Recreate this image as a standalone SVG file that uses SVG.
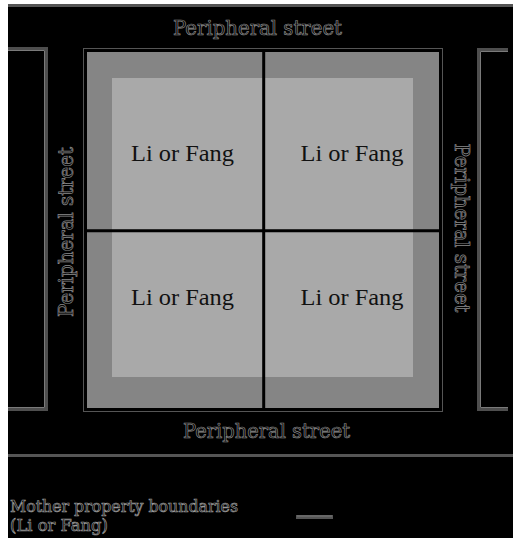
<svg xmlns="http://www.w3.org/2000/svg" width="513" height="538" viewBox="0 0 513 538">
<style>
.street{font-family:"DejaVu Serif","Liberation Serif",serif;font-size:20px;fill:#000;stroke:#8a8a8a;stroke-width:0.7px;text-anchor:middle}
.legend{font-family:"DejaVu Serif","Liberation Serif",serif;font-size:17px;fill:#000;stroke:#9a9a9a;stroke-width:0.7px}
.lf{font-family:"Liberation Serif","Times New Roman",serif;font-size:24px;fill:#111;text-anchor:middle}
.brk{fill:none;stroke:#4e4e4e;stroke-width:3}
.brk2{fill:none;stroke:#7a7a7a;stroke-width:1}
</style>
<rect x="0" y="0" width="513" height="538" fill="#fff"/>
<rect x="8" y="4" width="505" height="534" fill="#000"/>
<line x1="8" y1="5.5" x2="513" y2="5.5" stroke="#555" stroke-width="3"/>
<line x1="8" y1="455.5" x2="513" y2="455.5" stroke="#555" stroke-width="3"/>

<g id="left-bracket">
<path class="brk" d="M8,48.5 H46.5 V409.5 H8"/>
<path class="brk2" d="M8,50.5 H44.5 V407.5 H8"/>
</g>
<g id="right-bracket">
<path class="brk" d="M508,49.5 H478.5 V409.5 H508"/>
<path class="brk2" d="M508,51.5 H480.5 V407.5 H508"/>
</g>

<g id="block">
<rect x="83.5" y="48.5" width="359" height="363" fill="none" stroke="#555" stroke-width="1"/>
<rect x="85.5" y="50.5" width="355" height="359" fill="#858585" stroke="#000" stroke-width="3"/>
<rect x="112" y="78" width="301" height="299" fill="#a9a9a9"/>
<line x1="263.7" y1="50" x2="263.7" y2="410" stroke="#000" stroke-width="3"/>
<line x1="85" y1="230.7" x2="441" y2="230.7" stroke="#000" stroke-width="3"/>
</g>

<g id="q1"><text class="lf" x="182.5" y="161" textLength="103" lengthAdjust="spacingAndGlyphs">Li or Fang</text></g>
<g id="q2"><text class="lf" x="352" y="161" textLength="103" lengthAdjust="spacingAndGlyphs">Li or Fang</text></g>
<g id="q3"><text class="lf" x="182.5" y="305" textLength="103" lengthAdjust="spacingAndGlyphs">Li or Fang</text></g>
<g id="q4"><text class="lf" x="352" y="305" textLength="103" lengthAdjust="spacingAndGlyphs">Li or Fang</text></g>

<g id="street-top"><text class="street" x="257.5" y="35" textLength="169" lengthAdjust="spacingAndGlyphs">Peripheral street</text></g>
<g id="street-bottom"><text class="street" x="266.5" y="438" textLength="167" lengthAdjust="spacingAndGlyphs">Peripheral street</text></g>
<g id="street-left"><text class="street" transform="translate(73,232) rotate(-90)" x="0" y="0" textLength="170" lengthAdjust="spacingAndGlyphs">Peripheral street</text></g>
<g id="street-right"><text class="street" transform="translate(455,228) rotate(90)" x="0" y="0" textLength="169" lengthAdjust="spacingAndGlyphs">Peripheral street</text></g>

<g id="legend">
<text class="legend" x="10" y="512" textLength="228" lengthAdjust="spacingAndGlyphs">Mother property boundaries</text>
<text class="legend" x="10" y="531" textLength="98" lengthAdjust="spacingAndGlyphs">(Li or Fang)</text>
<line x1="296" y1="517" x2="333" y2="517" stroke="#555" stroke-width="4"/>
<line x1="297" y1="516" x2="332" y2="516" stroke="#7a7a7a" stroke-width="1"/>
</g>
</svg>
